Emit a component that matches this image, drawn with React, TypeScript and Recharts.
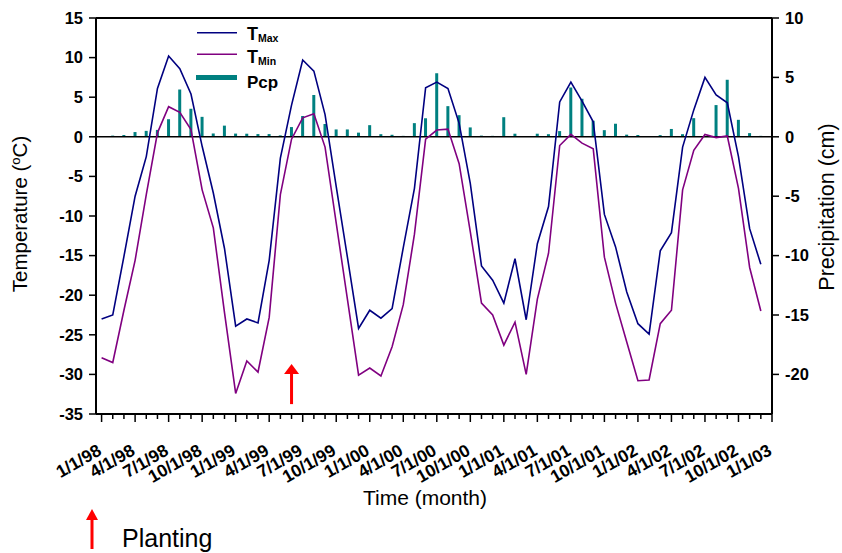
import React from 'react';
import { ComposedChart, Line, Bar, XAxis, YAxis, ReferenceLine, ReferenceDot } from 'recharts';

// Monthly values, Jan 1998 .. Dec 2002
const TMAX = [
  -23.0, -22.5, -15.1, -7.5, -2.5, 6.1, 10.2, 8.6, 5.4, -1.2, -7.1, -14.1,
  -23.9, -23.0, -23.5, -15.6, -2.7, 4.0, 9.7, 8.3, 2.8, -6.3, -15.2, -24.2,
  -21.9, -22.9, -21.7, -14.0, -6.5, 6.2, 6.9, 6.1, 1.7, -5.9, -16.3, -18.1,
  -21.0, -15.4, -23.1, -13.5, -8.8, 4.4, 6.9, 4.5, 1.9, -9.8, -13.9, -19.6,
  -23.6, -24.9, -14.4, -12.1, -1.3, 3.4, 7.5, 5.3, 4.3, -2.5, -11.6, -16.1,
];
const TMIN = [
  -27.9, -28.5, -21.9, -15.6, -7.3, 0.5, 3.8, 3.1, 0.9, -6.7, -11.5, -22.2,
  -32.4, -28.3, -29.7, -22.8, -7.3, -0.3, 2.4, 2.9, -1.3, -10.9, -20.5, -30.1,
  -29.2, -30.2, -26.5, -21.2, -12.3, -0.3, 0.85, 0.97, -3.4, -12.0, -21.0, -22.5,
  -26.3, -23.4, -30.0, -20.5, -14.7, -1.1, 0.3, -0.8, -1.5, -15.2, -21.0, -25.9,
  -30.8, -30.7, -23.6, -21.9, -6.7, -1.7, 0.3, -0.1, 0.1, -6.5, -16.5, -22.0,
];
const PCP = [
  0.05, 0.1, 0.15, 0.4, 0.5, 0.58, 1.48, 3.98, 2.36, 1.68, 0.28, 0.94,
  0.27, 0.26, 0.23, 0.23, 0.12, 0.82, 1.75, 3.52, 1.08, 0.62, 0.62, 0.35,
  0.98, 0.22, 0.17, 0.08, 1.15, 1.56, 5.35, 2.58, 1.82, 0.79, 0.1, 0.08,
  1.65, 0.26, 0.03, 0.26, 0.22, 0.48, 4.15, 3.2, 1.35, 0.56, 1.1, 0.18,
  0.15, 0.0, 0.14, 0.66, 0.22, 1.57, 0.05, 2.67, 4.8, 1.43, 0.31, 0.08,
];
const TICK_LABELS = [
  '1/1/98', '4/1/98', '7/1/98', '10/1/98',
  '1/1/99', '4/1/99', '7/1/99', '10/1/99',
  '1/1/00', '4/1/00', '7/1/00', '10/1/00',
  '1/1/01', '4/1/01', '7/1/01', '10/1/01',
  '1/1/02', '4/1/02', '7/1/02', '10/1/02',
  '1/1/03',
];
const TEMP_TICKS = [-35, -30, -25, -20, -15, -10, -5, 0, 5, 10, 15];
const PCP_TICKS = [-20, -15, -10, -5, 0, 5, 10];
const PLANTING_MONTH = 17;
const PLANTING_ARROW_TOP = -28.7;

const MONTH_TICKS = Array.from({ length: TICK_LABELS.length * 3 - 2 }, (_, i) => i);
const data = TMAX.map((v, i) => ({ m: i, tmax: v, tmin: TMIN[i], pcp: PCP[i] }));

const FONT = '"Liberation Sans", Arial, Helvetica, sans-serif';
const NAVY = '#000080';
const PURPLE = '#800080';
const TEAL = '#008080';

const XTick = (props: any) => {
  const { x, y, payload } = props;
  const m = payload.value as number;
  const major = m % 3 === 0;
  const label = major ? TICK_LABELS[m / 3] : '';
  const ax = x + 1;
  const ay = y + 40;
  return (
    <g>
      <line x1={x} y1={y} x2={x} y2={y + (major ? 8 : 5)} stroke="#000" strokeWidth={1.5} />
      {major && (
        <text
          x={ax}
          y={ay}
          transform={`rotate(-30 ${ax} ${ay})`}
          textAnchor="end"
          fontFamily={FONT}
          fontWeight="bold"
          fontSize={17.5}
          fill="#000"
        >
          {label}
        </text>
      )}
    </g>
  );
};

const Arrow = (props: any) => {
  const { cx, cy } = props;
  return (
    <g>
      <polygon points={`${cx},${cy} ${cx - 7.5},${cy + 10} ${cx + 7.5},${cy + 10}`} fill="#ff0000" />
      <rect x={cx - 1.5} y={cy + 9} width={3} height={31} fill="#ff0000" />
    </g>
  );
};

export default function App() {
  return (
    <div style={{ position: 'absolute', left: 0, top: 0, width: 842, height: 553, background: '#fff' }}>
      <ComposedChart
        width={842}
        height={553}
        data={data}
        margin={{ top: 18, right: 0, left: 0, bottom: 39 }}
      >
        <XAxis
          dataKey="m"
          type="number"
          domain={[-0.5, 60]}
          ticks={MONTH_TICKS}
          interval={0}
          tick={<XTick />}
          tickLine={false}
          tickSize={0}
          tickMargin={0}
          height={100}
          axisLine={{ stroke: '#000', strokeWidth: 2 }}
          allowDataOverflow
        />
        <YAxis
          yAxisId="t"
          domain={[-35, 15]}
          ticks={TEMP_TICKS}
          interval={0}
          width={96}
          tickSize={7}
          tickMargin={6}
          axisLine={{ stroke: '#000', strokeWidth: 2 }}
          tickLine={{ stroke: '#000', strokeWidth: 1.5 }}
          tick={{ fill: '#000', fontSize: 16.5, fontWeight: 'bold', fontFamily: FONT }}
        />
        <YAxis
          yAxisId="p"
          orientation="right"
          domain={[-70 / 3, 10]}
          ticks={PCP_TICKS}
          interval={0}
          width={70}
          tickSize={7}
          tickMargin={6}
          axisLine={{ stroke: '#000', strokeWidth: 2 }}
          tickLine={{ stroke: '#000', strokeWidth: 1.5 }}
          tick={{ fill: '#000', fontSize: 16.5, fontWeight: 'bold', fontFamily: FONT }}
          allowDataOverflow
        />
        <ReferenceLine yAxisId="t" y={15} stroke="#000" strokeWidth={2} />
        <ReferenceLine yAxisId="t" y={0} stroke="#000" strokeWidth={1.6} />
        <Bar yAxisId="p" dataKey="pcp" fill={TEAL} barSize={3} isAnimationActive={false} />
        <Line yAxisId="t" type="linear" dataKey="tmax" stroke={NAVY} strokeWidth={1.6} dot={false} isAnimationActive={false} />
        <Line yAxisId="t" type="linear" dataKey="tmin" stroke={PURPLE} strokeWidth={1.6} dot={false} isAnimationActive={false} />
        <ReferenceDot yAxisId="t" x={PLANTING_MONTH} y={PLANTING_ARROW_TOP} r={1} shape={<Arrow />} />
      </ComposedChart>

      <svg
        width={842}
        height={553}
        style={{ position: 'absolute', left: 0, top: 0, pointerEvents: 'none' }}
        fontFamily={FONT}
      >
        {/* Legend */}
        <line x1={197} y1={32.7} x2={237} y2={32.7} stroke={NAVY} strokeWidth={1.6} />
        <text x={247} y={40} fontSize={18} fontWeight="bold" fill="#000">
          T<tspan fontSize={10.5} dy={2}>Max</tspan>
        </text>
        <line x1={197} y1={54.3} x2={237} y2={54.3} stroke={PURPLE} strokeWidth={1.6} />
        <text x={247} y={62.7} fontSize={18} fontWeight="bold" fill="#000">
          T<tspan fontSize={10.5} dy={2}>Min</tspan>
        </text>
        <rect x={196} y={75} width={41} height={5} fill={TEAL} />
        <text x={247} y={87.7} fontSize={17} fontWeight="bold" fill="#000">Pcp</text>

        {/* Axis titles */}
        <text
          x={27}
          y={214}
          transform="rotate(-90 27 214)"
          textAnchor="middle"
          fontSize={20.5}
          fill="#000"
        >
          Temperature (<tspan fontSize={13} dy={-7}>o</tspan><tspan dy={7}>C)</tspan>
        </text>
        <text
          x={834}
          y={207}
          transform="rotate(-90 834 207)"
          textAnchor="middle"
          fontSize={21.5}
          fill="#000"
        >
          Precipitation (cm)
        </text>
        <text x={425} y={505} textAnchor="middle" fontSize={21} fill="#000">Time (month)</text>

        {/* Planting note */}
        <polygon points="92,509 86,520 98,520" fill="#ff0000" />
        <rect x={90.5} y={519} width={3} height={30} fill="#ff0000" />
        <text x={122} y={547} fontSize={25} fill="#000">Planting</text>
      </svg>
    </div>
  );
}
